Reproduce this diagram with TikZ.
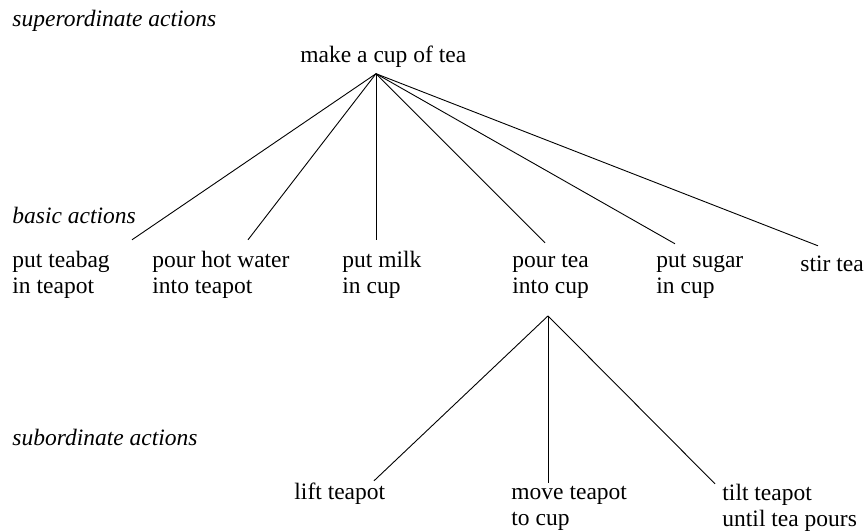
\documentclass[tikz,border=0pt]{standalone}
\usepackage{fontspec}
\setmainfont{Liberation Serif}
\begin{document}
\begin{tikzpicture}[x=1pt,y=-1pt,font=\fontsize{23.5}{26}\selectfont,line width=.9pt,
  act/.style={anchor=north west,align=left,inner sep=0pt},
  lvl/.style={anchor=base west,inner sep=0pt,font=\fontsize{23.5}{26}\selectfont\itshape}]
\useasboundingbox (0,0) rectangle (867,532);

\node[lvl] (super) at (12,27) {superordinate actions};
\node[lvl] (basic) at (12,223) {basic actions};
\node[lvl] (subord) at (12,445) {subordinate actions};

\node[act] (tea) at (300,43.8) {\strut make a cup of tea};

\node[act] (teabag) at (12,248.8) {\strut put teabag\\in teapot};
\node[act] (water) at (152,248.8) {\strut pour hot water\\into teapot};
\node[act] (milk) at (342,248.8) {\strut put milk\\in cup};
\node[act] (pour) at (512,248.8) {\strut pour tea\\into cup};
\node[act] (sugar) at (656,248.8) {\strut put sugar\\in cup};
\node[act] (stir) at (800,252.8) {\strut stir tea};

\node[act] (lift) at (294,480.8) {\strut lift teapot};
\node[act] (move) at (511,480.8) {\strut move teapot\\to cup};
\node[act] (tilt) at (722,481.8) {\strut tilt teapot\\until tea pours};

\draw ([xshift=76pt,yshift=-3pt]tea.south west) -- ([xshift=120pt,yshift=9pt]teabag.north west);
\draw ([xshift=76pt,yshift=-3pt]tea.south west) -- ([xshift=96pt,yshift=9pt]water.north west);
\draw ([xshift=76pt,yshift=-3pt]tea.south west) -- ([xshift=34pt,yshift=9pt]milk.north west);
\draw ([xshift=76pt,yshift=-3pt]tea.south west) -- ([xshift=33pt,yshift=6pt]pour.north west);
\draw ([xshift=76pt,yshift=-3pt]tea.south west) -- ([xshift=19pt,yshift=5pt]sugar.north west);
\draw ([xshift=76pt,yshift=-3pt]tea.south west) -- ([xshift=18pt,yshift=7pt]stir.north west);

\draw ([xshift=36pt,yshift=-17pt]pour.south west) -- ([xshift=80pt]lift.north west);
\draw ([xshift=36pt,yshift=-17pt]pour.south west) -- ([xshift=37pt,yshift=-2pt]move.north west);
\draw ([xshift=36pt,yshift=-17pt]pour.south west) -- ([xshift=-7pt,yshift=-2pt]tilt.north west);
\end{tikzpicture}
\end{document}
